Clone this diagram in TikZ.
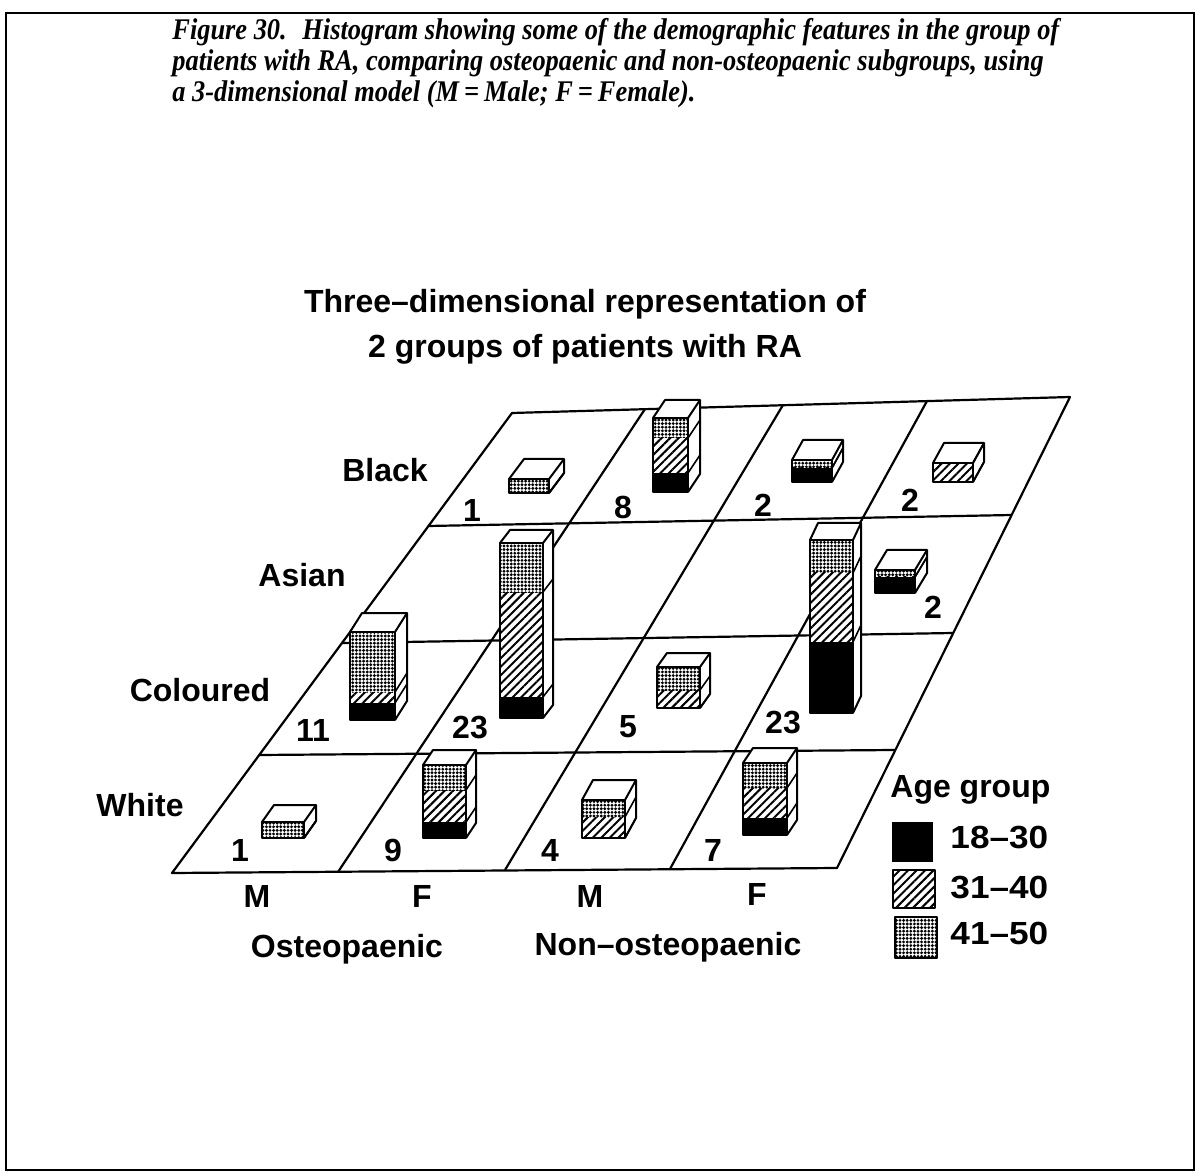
\documentclass[tikz,border=0pt]{standalone}
\usepackage{fontspec}
\setmainfont{Liberation Sans}
\newfontfamily\capfont[FakeStretch=0.88]{Liberation Serif}
\usetikzlibrary{patterns.meta}

\tikzset{
  gridline/.style={line width=1.1pt, line join=round},
  boxline/.style={line width=1pt, line join=round},
  hatchfill/.style={pattern={Lines[angle=45,distance=3pt,line width=1pt]}},
  dotfill/.style={pattern={Dots[radius=0.8pt,distance=1.8pt]}},
  lab/.style={font=\fontsize{16}{19}\selectfont\bfseries, inner sep=0pt},
  caption/.style={font=\fontsize{15}{17}\selectfont\capfont\bfseries\itshape, inner sep=0pt, anchor=base west}
}

% box: x left, x right, y top, y end dots, y end hatch, y bottom, depth dx, depth dy
\newcommand{\barbox}[8]{%
  \fill[white] (#1,#3) -- ({#1+(#7)},{#3+(#8)}) -- ({#2+(#7)},{#3+(#8)}) -- ({#2+(#7)},{#6+(#8)}) -- (#2,#6) -- (#1,#6) -- cycle;
  \fill[dotfill] (#1,#3) rectangle (#2,#4);
  \fill[hatchfill] (#1,#4) rectangle (#2,#5);
  \fill[black] (#1,#5) rectangle (#2,#6);
  \draw[boxline] (#1,#3) rectangle (#2,#6);
  \draw[boxline] (#1,#3) -- ({#1+(#7)},{#3+(#8)}) -- ({#2+(#7)},{#3+(#8)}) -- ({#2+(#7)},{#6+(#8)}) -- (#2,#6);
  \draw[boxline] (#2,#3) -- ({#2+(#7)},{#3+(#8)});
  \draw[line width=0.8pt] (#2,#4) -- ++(#7,#8);
  \draw[line width=0.8pt] (#2,#5) -- ++(#7,#8);
}

\begin{document}
\begin{tikzpicture}[x=0.5pt, y=-0.5pt]
	\useasboundingbox (0,0) rectangle (1200,1176);
	\draw[line width=1.2pt] (6,13) rectangle (1194,1170);

	% caption
	\node[caption] (fig) at (172,40) {Figure 30.};
	\node[caption] (cap1) at (302,40) {Histogram showing some of the demographic features in the group of};
	\node[caption] (cap2) at (172,71) {patients with RA, comparing osteopaenic and non-osteopaenic subgroups, using};
	\node[caption] (cap3) at (172,102) {a 3-dimensional model (M\,=\,Male; F\,=\,Female).};

	% title
	\node[lab, anchor=base] (title1) at (585,313) {Three–dimensional representation of};
	\node[lab, anchor=base] (title2) at (585,358) {2 groups of patients with RA};

	% floor
	\draw[gridline] (512,413) -- (1070,397) -- (837,868) -- (172,873) -- cycle;
	\draw[gridline] (428,526) -- (1012,515);
	\draw[gridline] (342,643) -- (953,633);
	\draw[gridline] (259,755) -- (895,750);
	\draw[gridline] (645,409) -- (338,872);
	\draw[gridline] (783,405) -- (505,870);
	\draw[gridline] (927,401) -- (670,869);

	% rows
	\node[lab, anchor=base] (black) at (385,482) {Black};
	\node[lab, anchor=base] (asian) at (302,587) {Asian};
	\node[lab, anchor=base] (coloured) at (200,701) {Coloured};
	\node[lab, anchor=base] (white) at (140,816) {White};

	% black row
	\barbox{509}{549}{479}{493}{493}{493}{15}{-20}
	\barbox{653}{688}{418}{438}{473}{492}{12}{-18}
	\barbox{792}{832}{460}{468}{468}{482}{11}{-20}
	\barbox{933}{973}{463}{463}{482}{482}{11}{-20}
	% asian row
	\barbox{875}{915}{570}{577}{577}{593}{12}{-20}
	% coloured row
	\barbox{350}{395}{632}{692}{703}{720}{12}{-19}
	\barbox{500}{543}{543}{592}{697}{718}{10}{-13}
	\barbox{657}{700}{667}{690}{708}{708}{10}{-14}
	\barbox{810}{853}{540}{573}{642}{713}{8}{-17}
	% white row
	\barbox{262}{304}{822}{838}{838}{838}{12}{-17}
	\barbox{423}{466}{765}{790}{822}{838}{10}{-15}
	\barbox{582}{625}{800}{817}{838}{838}{11}{-20}
	\barbox{743}{787}{763}{788}{818}{835}{10}{-15}

	% counts
	\node[lab] (nbom) at (472,510) {1};
	\node[lab] (nbof) at (623,507) {8};
	\node[lab] (nbnm) at (763,505) {2};
	\node[lab] (nbnf) at (910,500) {2};
	\node[lab] (nanf) at (933,607) {2};
	\node[lab] (ncom) at (313,730) {11};
	\node[lab] (ncof) at (470,728) {23};
	\node[lab] (ncnm) at (628,727) {5};
	\node[lab] (ncnf) at (783,723) {23};
	\node[lab] (nwom) at (240,850) {1};
	\node[lab] (nwof) at (393,850) {9};
	\node[lab] (nwnm) at (550,850) {4};
	\node[lab] (nwnf) at (713,850) {7};

	% columns
	\node[lab, anchor=base] (om) at (257,907) {M};
	\node[lab, anchor=base] (of) at (422,907) {F};
	\node[lab, anchor=base] (nm) at (590,907) {M};
	\node[lab, anchor=base] (nf) at (757,905) {F};
	\node[lab, anchor=base] (osteo) at (347,957) {Osteopaenic};
	\node[lab, anchor=base] (nonosteo) at (668,955) {Non–osteopaenic};

	% legend
	\node[lab, anchor=base west] (age) at (890,797) {Age group};
	\fill[black] (892,822) rectangle (933,862);
	\filldraw[boxline, hatchfill] (893,870) rectangle (935,908);
	\filldraw[boxline, dotfill] (895,917) rectangle (937,958);
	\node[lab, anchor=base west, xscale=1.1] (a1) at (950,848) {18–30};
	\node[lab, anchor=base west, xscale=1.1] (a2) at (950,898) {31–40};
	\node[lab, anchor=base west, xscale=1.1] (a3) at (950,944) {41–50};
\end{tikzpicture}
\end{document}
